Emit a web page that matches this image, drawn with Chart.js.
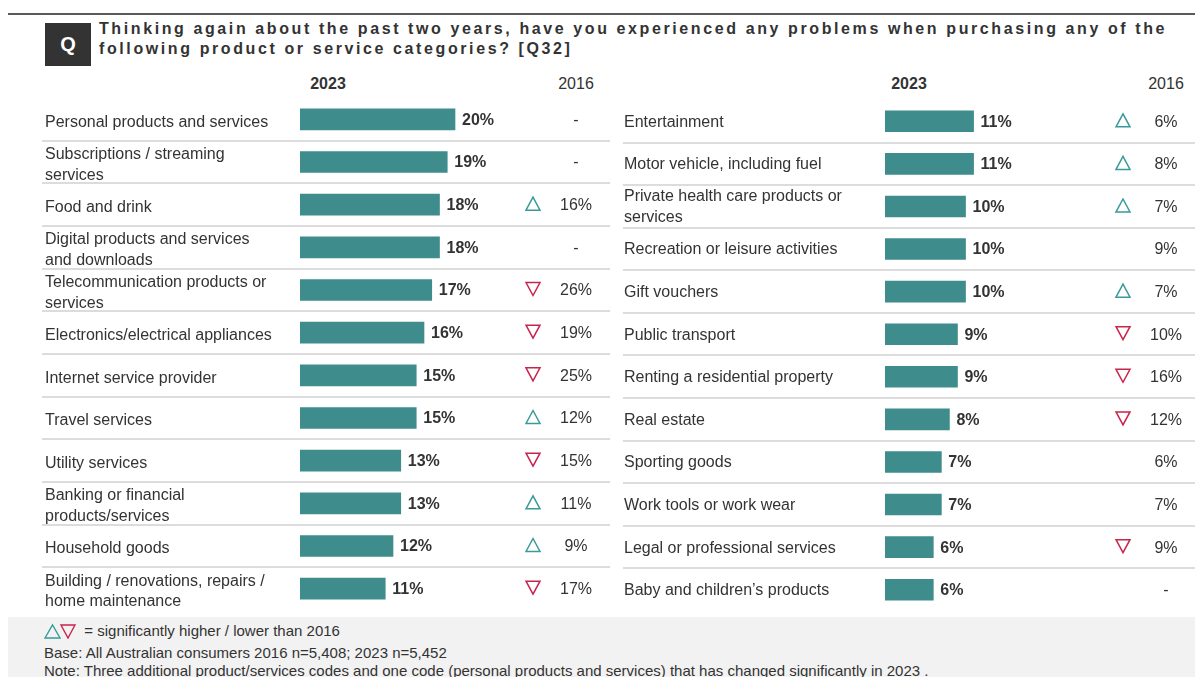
<!DOCTYPE html>
<html>
<head>
<meta charset="utf-8">
<script src="https://cdn.jsdelivr.net/npm/chart.js@4.4.1/dist/chart.umd.min.js"></script>
<style>
  body { margin: 0; width: 1195px; height: 677px; background: #fff; position: relative; overflow: hidden;
         font-family: "Liberation Sans", Arial, sans-serif; color: #333; }
  .rule { position: absolute; left: 8px; top: 13px; width: 1187px; height: 2px; background: #5a5a5a; }
  .qbox { position: absolute; left: 45px; top: 23px; width: 46px; height: 43px; background: #333;
          color: #fff; font-weight: bold; font-size: 20px; line-height: 43px; text-align: center; }
  .title { position: absolute; left: 99px; top: 19px; font-weight: bold; font-size: 16px; line-height: 20px;
           letter-spacing: 2.6px; color: #333; white-space: nowrap; }
  .hdr { position: absolute; top: 74px; font-size: 16px; line-height: 20px; width: 80px; text-align: center; }
  .hdr.b { font-weight: bold; }
  canvas { position: absolute; }
  .foot { position: absolute; left: 8px; top: 617px; width: 1187px; height: 60px; background: #f2f2f2; }
  .foot div { position: absolute; left: 36px; font-size: 15px; line-height: 17px; white-space: nowrap; color: #333; }
</style>
</head>
<body>
<div class="rule"></div>
<div class="qbox">Q</div>
<div class="title">Thinking again about the past two years, have you experienced any problems when purchasing any of the<br>following product or service categories? [Q32]</div>

<div class="hdr b" style="left:288px">2023</div>
<div class="hdr" style="left:536px">2016</div>
<div class="hdr b" style="left:869px">2023</div>
<div class="hdr" style="left:1126px">2016</div>

<canvas id="leftChart" width="612" height="512" style="left:0;top:98px"></canvas>
<canvas id="rightChart" width="583" height="511" style="left:612px;top:100px"></canvas>

<div class="foot">
  <div style="top:5px;left:36px">
    <svg width="32" height="16" style="vertical-align:-3px">
      <polygon points="1,15 8.5,2 16,15" fill="none" stroke="#3a9a9a" stroke-width="1.4"/>
      <polygon points="17,2 31,2 24,15" fill="none" stroke="#c9244b" stroke-width="1.4"/>
    </svg>
    &nbsp;= significantly higher / lower than 2016
  </div>
  <div style="top:27px">Base: All Australian consumers 2016 n=5,408; 2023 n=5,452</div>
  <div style="top:45px">Note: Three additional product/services codes and one code (personal products and services) that has changed significantly in 2023 .</div>
</div>

<script>
// left panel
const leftCategories = [
  'Personal products and services',
  ['Subscriptions / streaming', 'services'],
  'Food and drink',
  ['Digital products and services', 'and downloads'],
  ['Telecommunication products or', 'services'],
  'Electronics/electrical appliances',
  'Internet service provider',
  'Travel services',
  'Utility services',
  ['Banking or financial', 'products/services'],
  'Household goods',
  ['Building / renovations, repairs /', 'home maintenance']
];
const left2023 = [20, 19, 18, 18, 17, 16, 15, 15, 13, 13, 12, 11];
const left2016 = ['-', '-', '16%', '-', '26%', '19%', '25%', '12%', '15%', '11%', '9%', '17%'];
const leftSig = ['', '', 'up', '', 'down', 'down', 'down', 'up', 'down', 'up', 'up', 'down'];

// right panel
const rightCategories = [
  'Entertainment',
  'Motor vehicle, including fuel',
  ['Private health care products or', 'services'],
  'Recreation or leisure activities',
  'Gift vouchers',
  'Public transport',
  'Renting a residential property',
  'Real estate',
  'Sporting goods',
  'Work tools or work wear',
  'Legal or professional services',
  'Baby and children\u2019s products'
];
const right2023 = [11, 11, 10, 10, 10, 9, 9, 8, 7, 7, 6, 6];
const right2016 = ['6%', '8%', '7%', '9%', '7%', '10%', '16%', '12%', '6%', '7%', '9%', '-'];
const rightSig = ['up', 'up', 'up', '', 'up', 'down', 'down', 'down', '', '', 'down', ''];

const TEAL = '#3e8c8c';
const UP = '#3a9a9a';
const DOWN = '#c9244b';
const FONT = '"Liberation Sans", Arial, sans-serif';

// separators, value labels, change markers and 2016 column
const tablePlugin = {
  id: 'tableExtras',
  beforeDatasetsDraw(chart, args, opts) {
    const ctx = chart.ctx;
    const y = chart.scales.y;
    ctx.save();
    ctx.strokeStyle = '#dcdcdc';
    ctx.lineWidth = 2;
    for (let i = 1; i < chart.data.labels.length; i++) {
      const yy = Math.round((y.getPixelForValue(i - 1) + y.getPixelForValue(i)) / 2);
      ctx.beginPath();
      ctx.moveTo(opts.lineFrom, yy);
      ctx.lineTo(opts.lineTo, yy);
      ctx.stroke();
    }
    ctx.restore();
  },
  afterDatasetsDraw(chart, args, opts) {
    const ctx = chart.ctx;
    const meta = chart.getDatasetMeta(0);
    const values = chart.data.datasets[0].data;
    ctx.save();
    meta.data.forEach((bar, i) => {
      // 2023 value
      ctx.font = 'bold 16px ' + FONT;
      ctx.fillStyle = '#333';
      ctx.textAlign = 'left';
      ctx.textBaseline = 'middle';
      ctx.fillText(values[i] + '%', bar.x + 7, bar.y + 1);

      // 2016 value
      ctx.font = '16px ' + FONT;
      ctx.textAlign = 'center';
      ctx.fillText(opts.old[i], opts.oldX, bar.y + 1);

      // significance marker
      const s = opts.sig[i];
      if (s) {
        const cx = opts.markX, w = 7, h = 13;
        const cy = bar.y - 1;
        ctx.beginPath();
        if (s === 'up') {
          ctx.moveTo(cx - w, cy + h / 2);
          ctx.lineTo(cx, cy - h / 2);
          ctx.lineTo(cx + w, cy + h / 2);
        } else {
          ctx.moveTo(cx - w, cy - h / 2);
          ctx.lineTo(cx, cy + h / 2);
          ctx.lineTo(cx + w, cy - h / 2);
        }
        ctx.closePath();
        ctx.strokeStyle = s === 'up' ? UP : DOWN;
        ctx.lineWidth = 1.5;
        ctx.stroke();
      }
    });
    ctx.restore();
  }
};

function makeChart(id, labels, values, xMax, padLeft, padRight, axisWidth, labelShift, extras) {
  return new Chart(document.getElementById(id), {
    type: 'bar',
    data: {
      labels: labels,
      datasets: [{
        data: values,
        backgroundColor: TEAL,
        borderWidth: 0,
        barThickness: 21
      }]
    },
    options: {
      indexAxis: 'y',
      responsive: false,
      animation: false,
      layout: { padding: { left: padLeft, right: padRight, top: 0, bottom: 0 } },
      plugins: {
        legend: { display: false },
        tooltip: { enabled: false },
        tableExtras: extras
      },
      scales: {
        x: { display: false, min: 0, max: xMax },
        y: {
          grid: { display: false },
          border: { display: false },
          ticks: {
            autoSkip: false,
            crossAlign: 'far',
            padding: 0,
            labelOffset: labelShift,
            color: '#333',
            font: { family: FONT, size: 16, lineHeight: 1.3 }
          },
          afterFit(scale) {
            scale.width = axisWidth;
            scale.paddingTop = 0;
            scale.paddingBottom = 0;
          }
        }
      }
    },
    plugins: [tablePlugin]
  });
}

makeChart('leftChart', leftCategories, left2023, 40, 45, 2, 255, 3,
  { old: left2016, sig: leftSig, oldX: 576, markX: 533, lineFrom: 42, lineTo: 610 });

makeChart('rightChart', rightCategories, right2023, 38.5, 12, 0, 261, 1,
  { old: right2016, sig: rightSig, oldX: 554, markX: 511, lineFrom: 11, lineTo: 583 });
</script>
</body>
</html>
